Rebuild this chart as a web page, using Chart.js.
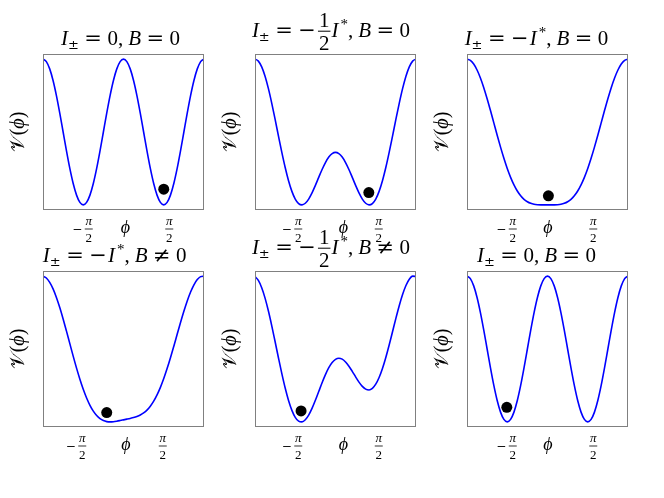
<!DOCTYPE html>
<html>
<head>
<meta charset="utf-8">
<script src="https://cdn.jsdelivr.net/npm/chart.js@4/dist/chart.umd.min.js"></script>
<style>
  body { margin: 0; background: #fff; width: 664px; height: 498px; position: relative; overflow: hidden; }
  canvas { position: absolute; }
</style>
</head>
<body>
<script>
// phi sampled in degrees, -180 .. 180
const phiDeg = [-180, -172.5, -165, -157.5, -150, -142.5, -135, -127.5, -120, -112.5, -105, -97.5,
  -90, -82.5, -75, -67.5, -60, -52.5, -45, -37.5, -30, -22.5, -15, -7.5, 0,
  7.5, 15, 22.5, 30, 37.5, 45, 52.5, 60, 67.5, 75, 82.5, 90,
  97.5, 105, 112.5, 120, 127.5, 135, 142.5, 150, 157.5, 165, 172.5, 180];

// I = 0, B = 0 (double well)
const vZero = [1, 0.966, 0.866, 0.707, 0.5, 0.259, 0, -0.259, -0.5, -0.707, -0.866, -0.966,
  -1, -0.966, -0.866, -0.707, -0.5, -0.259, 0, 0.259, 0.5, 0.707, 0.866, 0.966, 1,
  0.966, 0.866, 0.707, 0.5, 0.259, 0, -0.259, -0.5, -0.707, -0.866, -0.966, -1,
  -0.966, -0.866, -0.707, -0.5, -0.259, 0, 0.259, 0.5, 0.707, 0.866, 0.966, 1];

// I = -I*/2, B = 0
const vHalf = [2, 1.957, 1.832, 1.631, 1.366, 1.052, 0.707, 0.350, 0, -0.324, -0.607, -0.835,
  -1.000, -1.097, -1.125, -1.090, -1.000, -0.868, -0.707, -0.535, -0.366, -0.217, -0.100, -0.026, 0,
  -0.026, -0.100, -0.217, -0.366, -0.535, -0.707, -0.868, -1.000, -1.090, -1.125, -1.097, -1.000,
  -0.835, -0.607, -0.324, 0, 0.350, 0.707, 1.052, 1.366, 1.631, 1.832, 1.957, 2];

// I = -I*, B = 0 (flat bottom)
const vFull = [5, 4.932, 4.730, 4.403, 3.964, 3.432, 2.828, 2.176, 1.5, 0.824, 0.169, -0.444,
  -1, -1.488, -1.901, -2.238, -2.5, -2.694, -2.828, -2.915, -2.964, -2.988, -2.998, -3.000, -3,
  -3.000, -2.998, -2.988, -2.964, -2.915, -2.828, -2.694, -2.5, -2.238, -1.901, -1.488, -1,
  -0.444, 0.169, 0.824, 1.5, 2.176, 2.828, 3.432, 3.964, 4.403, 4.730, 4.932, 5];

// I = -I*, B != 0
const vFullB = [5, 4.893, 4.652, 4.288, 3.814, 3.250, 2.616, 1.938, 1.240, 0.546, -0.121, -0.741,
  -1.3, -1.785, -2.191, -2.515, -2.760, -2.932, -3.041, -3.097, -3.114, -3.103, -3.075, -3.039, -3,
  -2.961, -2.920, -2.874, -2.814, -2.732, -2.616, -2.456, -2.240, -1.961, -1.612, -1.191, -0.7,
  -0.146, 0.459, 1.101, 1.760, 2.414, 3.041, 3.615, 4.114, 4.517, 4.807, 4.971, 5];

// I = -I*/2, B != 0
const vHalfB = [2, 1.905, 1.729, 1.478, 1.166, 0.809, 0.424, 0.033, -0.346, -0.694, -0.994, -1.232,
  -1.4, -1.493, -1.511, -1.459, -1.346, -1.185, -0.990, -0.778, -0.566, -0.370, -0.203, -0.078, 0,
  0.027, 0.004, -0.064, -0.166, -0.291, -0.424, -0.550, -0.654, -0.720, -0.739, -0.700, -0.6,
  -0.439, -0.221, 0.045, 0.346, 0.667, 0.990, 1.296, 1.566, 1.784, 1.936, 2.010, 2];

// ball positions, one per panel
const ballPhi = [90, 74.5, 2, -37.5, -77, -91];
const ballV = [-0.785, -0.86, -2.5, -2.595, -1.247, -0.80];

const tickValues = [-90, 90];

const SERIF = "'Liberation Serif','DejaVu Serif',serif";
const SYM = "'DejaVu Serif',serif";

// small helpers for the math-like titles
const sp = w => ({ sp: w });
const rel = ch => [sp(5.5), { t: ch, f: SYM }, sp(5.5)];
const I_PM = [{ t: 'I', it: true }, { t: '±', size: 13, dy: 4, f: SYM }];
const I_STAR = [{ t: 'I', it: true }, sp(2), { t: '*', size: 15, dy: -8 }];
const B_PART = [{ t: ',' }, sp(5), { t: 'B', it: true }];

const titleZero = [...I_PM, ...rel('='), { t: '0' }, ...B_PART, ...rel('='), { t: '0' }];
const titleHalf = [...I_PM, ...rel('='), { t: '−', f: SYM }, sp(1), { frac: ['1', '2'] }, ...I_STAR, ...B_PART, ...rel('='), { t: '0' }];
const titleFull = [...I_PM, ...rel('='), { t: '−', f: SYM }, sp(1), ...I_STAR, ...B_PART, ...rel('='), { t: '0' }];
const titleFullB = [...I_PM, ...rel('='), { t: '−', f: SYM }, sp(1), ...I_STAR, ...B_PART, ...rel('≠'), { t: '0' }];
const titleHalfB = [...I_PM, ...rel('='), { t: '−', f: SYM }, sp(1), { frac: ['1', '2'] }, ...I_STAR, ...B_PART, ...rel('≠'), { t: '0' }];

const panels = [
  { v: vZero,  title: titleZero,  hasFrac: false, left: 43,  top: 54,  titleCx: 120.5, tickShift: 5.5, phiShift: 2 },
  { v: vHalf,  title: titleHalf,  hasFrac: true,  left: 255, top: 54,  titleCx: 331,   tickShift: 3,   phiShift: 8 },
  { v: vFull,  title: titleFull,  hasFrac: false, left: 467, top: 54,  titleCx: 536.5, tickShift: 5.5, phiShift: 0.5 },
  { v: vFullB, title: titleFullB, hasFrac: false, left: 43,  top: 271, titleCx: 114.7, tickShift: -1,  phiShift: 2.5 },
  { v: vHalfB, title: titleHalfB, hasFrac: true,  left: 255, top: 271, titleCx: 331,   tickShift: 3,   phiShift: 8 },
  { v: vZero,  title: titleZero,  hasFrac: false, left: 467, top: 271, titleCx: 536.5, tickShift: 5.5, phiShift: 0.5 },
];

const BOX_W = 161, BOX_H = 156;
const PAD = { left: 44, top: 60, right: 17, bottom: 40 };

function fontOf(s) {
  return (s.it ? 'italic ' : '') + (s.size || 21) + 'px ' + (s.f || SERIF);
}

function segWidth(ctx, s) {
  if (s.sp !== undefined) return s.sp;
  if (s.frac) {
    ctx.font = fontOf({ size: s.size });
    return Math.max(ctx.measureText(s.frac[0]).width, ctx.measureText(s.frac[1]).width) + 4;
  }
  ctx.font = fontOf(s);
  return ctx.measureText(s.t).width;
}

function drawRich(ctx, segs, cx, base) {
  const w = segs.reduce((a, s) => a + segWidth(ctx, s), 0);
  let x = cx - w / 2;
  ctx.fillStyle = '#000';
  ctx.textBaseline = 'alphabetic';
  segs.forEach(s => {
    const sw = segWidth(ctx, s);
    if (s.frac) {
      const size = s.size || 21;
      ctx.font = fontOf({ size });
      const bar = base - 5.5;
      ctx.fillRect(x + 1, bar - 0.5, sw - 2, 1);
      ctx.textAlign = 'center';
      ctx.fillText(s.frac[0], x + sw / 2, bar - 4);
      ctx.fillText(s.frac[1], x + sw / 2, bar + 19);
    } else if (s.t) {
      ctx.font = fontOf(s);
      ctx.textAlign = 'left';
      ctx.fillText(s.t, x, base + (s.dy || 0));
    }
    x += sw;
  });
  ctx.textAlign = 'left';
}

const decorPlugin = {
  id: 'decor',
  afterDraw(chart) {
    const { ctx, chartArea: a, scales: { x } } = chart;
    const p = chart.options.plugins.decor;
    ctx.save();
    // frame
    ctx.strokeStyle = '#808080';
    ctx.lineWidth = 1;
    ctx.strokeRect(a.left + 0.5, a.top + 0.5, a.right - a.left - 1, a.bottom - a.top - 1);

    // tick labels -pi/2 and pi/2 as fractions
    ctx.fillStyle = '#000';
    tickValues.forEach(tv => {
      const cx = x.getPixelForValue(tv) + p.tickShift;
      const bar = a.bottom + 19;
      ctx.textAlign = 'center';
      ctx.textBaseline = 'alphabetic';
      ctx.font = 'italic 13px ' + SERIF;
      ctx.fillText('π', cx, a.bottom + 15);
      ctx.fillRect(cx - 4, bar - 0.4, 8, 0.8);
      ctx.font = '13px ' + SERIF;
      ctx.fillText('2', cx, a.bottom + 32);
      if (tv < 0) {
        ctx.font = '12px ' + SYM;
        ctx.fillText('−', cx - 11.5, bar + 4);
      }
    });

    // x label
    ctx.textAlign = 'center';
    ctx.font = 'italic 18px ' + SERIF;
    ctx.fillText('ϕ', x.getPixelForValue(0) + p.phiShift, a.bottom + 22.5);

    // y label
    ctx.save();
    ctx.translate(a.left - 19.5, (a.top + a.bottom) / 2);
    ctx.rotate(-Math.PI / 2);
    drawRich(ctx, [{ t: '𝒱', size: 20 }, { t: '(', size: 20 }, { t: 'ϕ', it: true, size: 20 }, { t: ')', size: 20 }], 0, 0);
    ctx.restore();

    // title
    const base = p.hasFrac ? a.top - 17.3 : a.top - 9;
    drawRich(ctx, p.title, p.titleCx, base);
    ctx.restore();
  }
};

panels.forEach((panel, k) => {
  const canvas = document.createElement('canvas');
  const cw = PAD.left + BOX_W + PAD.right;
  const ch = PAD.top + BOX_H + PAD.bottom;
  canvas.width = cw;
  canvas.height = ch;
  canvas.style.width = cw + 'px';
  canvas.style.height = ch + 'px';
  const cLeft = panel.left - PAD.left;
  const cTop = panel.top - PAD.top;
  canvas.style.left = cLeft + 'px';
  canvas.style.top = cTop + 'px';
  document.body.appendChild(canvas);

  const vMin = Math.min(...panel.v), vMax = Math.max(...panel.v);
  const pad = (vMax - vMin) * 0.035;

  new Chart(canvas, {
    type: 'line',
    data: {
      datasets: [
        {
          data: [{ x: ballPhi[k], y: ballV[k] }],
          showLine: false,
          pointRadius: 5.5,
          pointBackgroundColor: '#000',
          pointBorderWidth: 0,
          order: 0
        },
        {
          data: phiDeg.map((p, i) => ({ x: p, y: panel.v[i] })),
          borderColor: '#0000ff',
          borderWidth: 1.6,
          pointRadius: 0,
          cubicInterpolationMode: 'monotone',
          fill: false,
          order: 1
        }
      ]
    },
    options: {
      responsive: false,
      animation: false,
      devicePixelRatio: 1,
      events: [],
      layout: { padding: PAD },
      plugins: {
        legend: { display: false },
        tooltip: { enabled: false },
        decor: {
          title: panel.title,
          hasFrac: panel.hasFrac,
          titleCx: panel.titleCx - cLeft,
          tickShift: panel.tickShift,
          phiShift: panel.phiShift
        }
      },
      scales: {
        x: { type: 'linear', min: -180, max: 180, display: false },
        y: { min: vMin - pad, max: vMax + pad, display: false }
      }
    },
    plugins: [decorPlugin]
  });
});
</script>
</body>
</html>
